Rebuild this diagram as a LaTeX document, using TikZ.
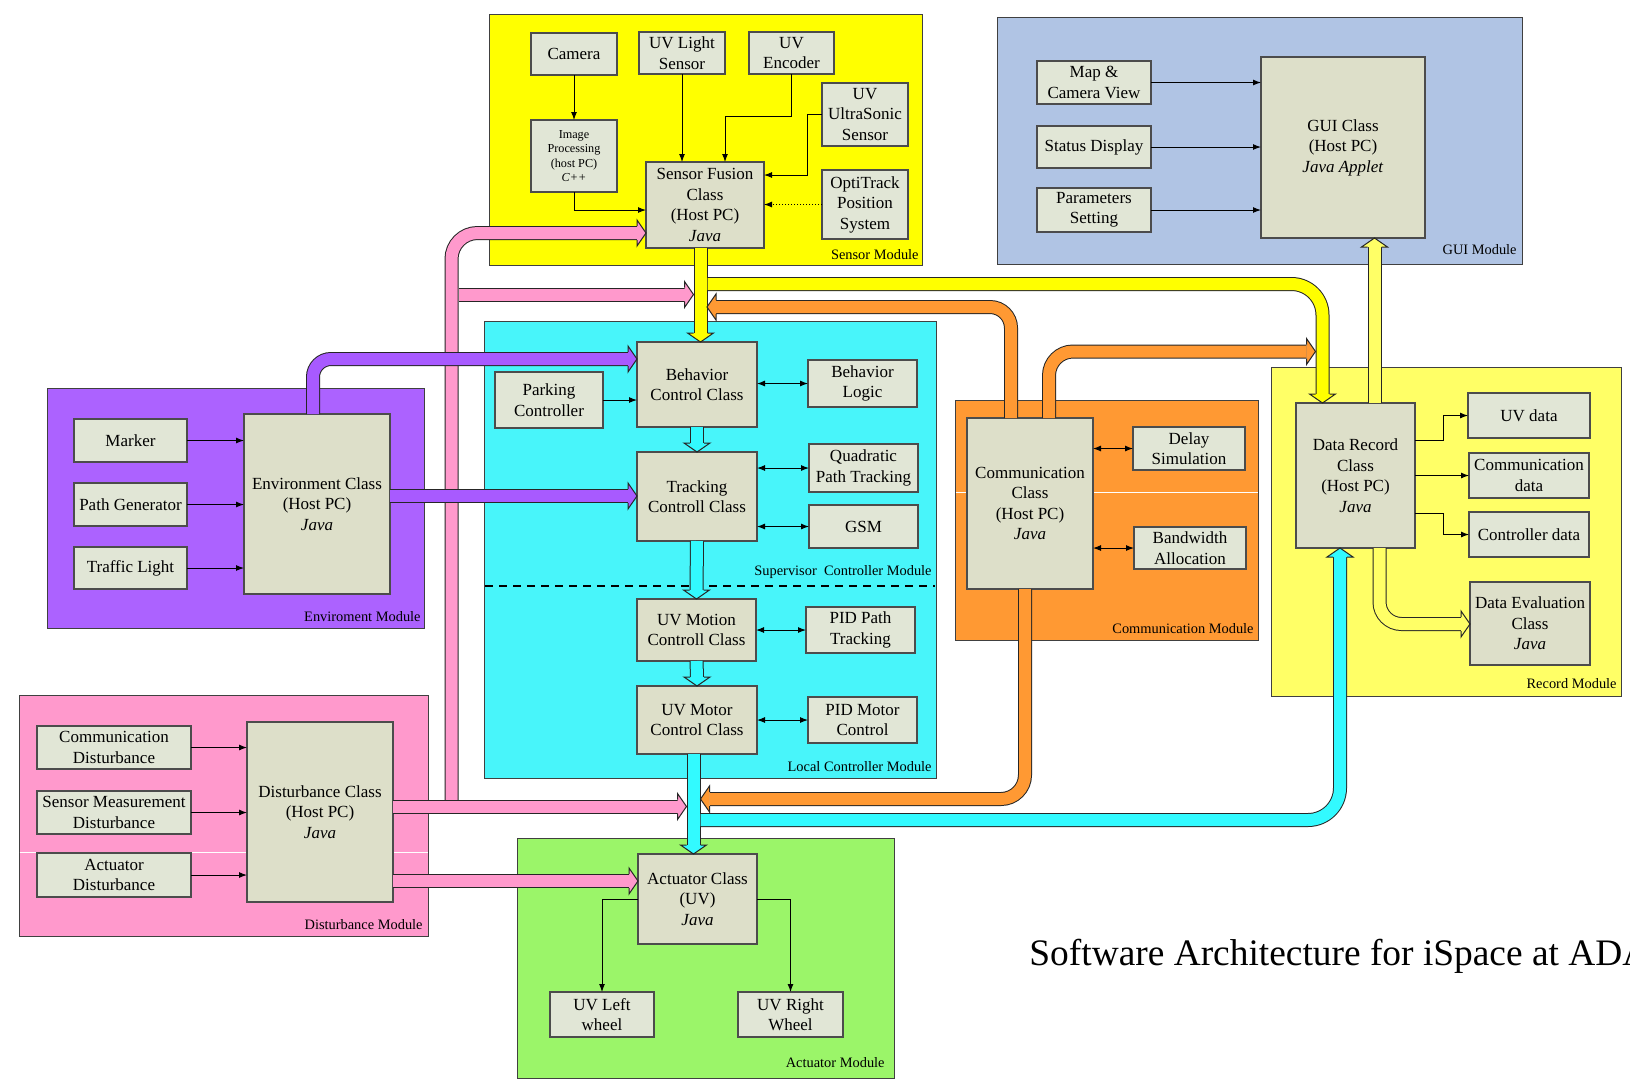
\documentclass[tikz,border=0pt]{standalone}
\usepackage{fontspec}
\setmainfont{Liberation Serif}
\usetikzlibrary{calc,arrows.meta}
\definecolor{sensY}{RGB}{255,255,0}
\definecolor{guiB}{RGB}{176,196,228}
\definecolor{envP}{RGB}{172,98,255}
\definecolor{purA}{RGB}{168,90,255}
\definecolor{cyanM}{RGB}{72,245,250}
\definecolor{cyanA}{RGB}{50,250,255}
\definecolor{commO}{RGB}{255,153,51}
\definecolor{recY}{RGB}{255,255,102}
\definecolor{distP}{RGB}{255,153,204}
\definecolor{actG}{RGB}{155,245,105}
\definecolor{clsF}{RGB}{221,223,201}
\definecolor{subF}{RGB}{225,230,214}
\newcommand\bx[7][]{\node[box,#1,minimum width={(#5-#3)*0.5pt},minimum height={(#6-#4)*0.5pt}] (#2) at ({(#3+#5)/2},{(#4+#6)/2}) {#7};}
\newcommand\md[6]{\node[modst,fill=#6,minimum width={(#4-#2)*0.5pt},minimum height={(#5-#3)*0.5pt}] (#1) at ({(#2+#4)/2},{(#3+#5)/2}) {};}
\newcommand\hR[2]{\filldraw[hd,fill=#1] ($(#2)+(-9,-7)$) -- ($(#2)+(-9,-13)$) -- (#2) -- ($(#2)+(-9,13)$) -- ($(#2)+(-9,7)$);}
\newcommand\hL[2]{\filldraw[hd,fill=#1] ($(#2)+(9,-7)$) -- ($(#2)+(9,-13)$) -- (#2) -- ($(#2)+(9,13)$) -- ($(#2)+(9,7)$);}
\newcommand\hD[2]{\filldraw[hd,fill=#1] ($(#2)+(-7,-9)$) -- ($(#2)+(-13,-9)$) -- (#2) -- ($(#2)+(13,-9)$) -- ($(#2)+(7,-9)$);}
\newcommand\hU[2]{\filldraw[hd,fill=#1] ($(#2)+(-7,9)$) -- ($(#2)+(-13,9)$) -- (#2) -- ($(#2)+(13,9)$) -- ($(#2)+(7,9)$);}
\begin{document}
\begin{tikzpicture}[x=0.5pt,y=-0.5pt,
  box/.style={draw=black!70,line width=0.6pt,fill=subF,inner sep=0pt,outer sep=0pt,align=center,font=\fontsize{8.5}{10.25}\selectfont},
  cls/.style={fill=clsF},
  small/.style={font=\fontsize{6.1}{7.3}\selectfont},
  modst/.style={draw=black!75,line width=0.5pt,inner sep=0pt,outer sep=0pt},
  arr/.style={line width=0.5pt,-{Latex[length=4pt,width=3pt]}},
  barr/.style={line width=0.5pt,{Latex[length=4pt,width=3pt]}-{Latex[length=4pt,width=3pt]}},
  mlab/.style={anchor=east,inner sep=0pt,font=\fontsize{7.2}{8.6}\selectfont},
  blk/.style={draw=black!85,line width=0.5pt,double=#1,double distance=6pt},
  hd/.style={draw=black!85,line width=0.5pt,line join=miter}]
\useasboundingbox (0,0) rectangle (1630,1089);
\fill[white] (0,0) rectangle (1630,1089);
% modules
\md{sensmod}{489}{14}{922}{265}{sensY}
\md{guimod}{997}{17}{1522}{264}{guiB}
\md{envmod}{47}{388}{424}{628}{envP}
\md{ctrlmod}{484}{321}{936}{778}{cyanM}
\md{commmod}{955}{400}{1258}{640}{commO}
\md{recmod}{1271}{367}{1621}{696}{recY}
\md{distmod}{19}{695}{428}{936}{distP}
\md{actmod}{517}{838}{894}{1078}{actG}
\draw[white,line width=0.4pt] (955.5,492) -- (1257.5,492);
\draw[white,line width=0.4pt] (19.5,852) -- (427.5,852);
\draw[dashed,line width=0.6pt,dash pattern=on 4pt off 3pt] (485,586) -- (935,586);
% boxes
\bx{camera}{531}{33}{617}{75}{Camera}
\bx{uvlight}{639}{32}{725}{74}{UV Light\\Sensor}
\bx{uvenc}{749}{32}{834}{74}{UV\\Encoder}
\bx{uvsonic}{822}{83}{908}{146}{UV\\UltraSonic\\Sensor}
\bx[small]{imgproc}{531}{120}{617}{192}{Image\\Processing\\(host PC)\\\textit{C++}}
\bx[cls]{fusion}{646}{162}{764}{248}{Sensor Fusion\\Class\\(Host PC)\\\textit{Java}}
\bx{opti}{822}{170}{908}{239}{OptiTrack\\Position\\System}
\bx{mapcam}{1037}{61}{1151}{104}{Map \&\\Camera View}
\bx{status}{1037}{126}{1151}{168}{Status Display}
\bx{params}{1037}{188}{1151}{232}{Parameters\\Setting}
\bx[cls]{guic}{1261}{57}{1425}{238}{GUI Class\\(Host PC)\\\textit{Java Applet}}
\bx{marker}{74}{419}{187}{462}{Marker}
\bx{pathgen}{74}{483}{187}{526}{Path Generator}
\bx{traffic}{74}{547}{187}{589}{Traffic Light}
\bx[cls]{envc}{244}{414}{390}{594}{Environment Class\\(Host PC)\\\textit{Java}}
\bx[cls]{behav}{637}{342}{757}{427}{Behavior\\Control Class}
\bx{parking}{495}{372}{603}{428}{Parking\\Controller}
\bx{blogic}{808}{360}{917}{407}{Behavior\\Logic}
\bx[cls]{track}{637}{452}{757}{541}{Tracking\\Controll Class}
\bx{quad}{809}{444}{918}{492}{Quadratic\\Path Tracking}
\bx{gsm}{809}{505}{918}{548}{GSM}
\bx[cls]{motion}{637}{599}{756}{661}{UV Motion\\Controll Class}
\bx{pidpath}{806}{607}{915}{653}{PID Path\\Tracking}
\bx[cls]{motor}{637}{686}{757}{754}{UV Motor\\Control Class}
\bx{pidmotor}{808}{697}{917}{743}{PID Motor\\Control}
\bx[cls]{commc}{967}{418}{1093}{589}{Communication\\Class\\(Host PC)\\\textit{Java}}
\bx{delay}{1133}{427}{1245}{470}{Delay\\Simulation}
\bx{bandw}{1134}{527}{1246}{569}{Bandwidth\\Allocation}
\bx[cls]{datarec}{1296}{403}{1415}{548}{Data Record\\Class\\(Host PC)\\\textit{Java}}
\bx{uvdata}{1468}{393}{1590}{438}{UV data}
\bx{commdata}{1469}{453}{1589}{498}{Communication\\data}
\bx{ctrldata}{1469}{512}{1589}{557}{Controller data}
\bx[cls]{dataeval}{1470}{582}{1590}{665}{Data Evaluation\\Class\\\textit{Java}}
\bx{cdist}{37}{726}{191}{769}{Communication\\Disturbance}
\bx{smdist}{37}{791}{191}{834}{Sensor Measurement\\Disturbance}
\bx{adist}{37}{853}{191}{897}{Actuator\\Disturbance}
\bx[cls]{distc}{247}{722}{393}{902}{Disturbance Class\\(Host PC)\\\textit{Java}}
\bx[cls]{actc}{638}{854}{757}{944}{Actuator Class\\(UV)\\\textit{Java}}
\bx{lwheel}{550}{992}{654}{1037}{UV Left\\wheel}
\bx{rwheel}{738}{992}{843}{1037}{UV Right\\Wheel}
% block arrows: tips
\coordinate (pkT1) at (fusion.west |- 0,233);
\coordinate (pkT2) at (693.5,294.5);
\coordinate (pkT3) at (686.5,806.5);
\coordinate (pkT4) at (actc.west |- 0,881);
\coordinate (puT1) at (behav.west |- 0,359);
\coordinate (puT2) at (track.west |- 0,496);
\coordinate (yT1) at (700.5,0 |- behav.north);
\coordinate (yT2) at (1322.5,0 |- datarec.north);
\coordinate (lyT1) at (1374.5,0 |- guic.south);
\coordinate (lyT2) at (dataeval.west |- 0,624);
\coordinate (oT1) at (707,307);
\coordinate (oT2) at (1315.5,351.5);
\coordinate (oT3) at (700.5,799);
\coordinate (cT4) at (693.5,0 |- actc.north);
\coordinate (cT5) at (1340,0 |- datarec.south);
% cyan
\draw[blk=cyanA] (behav.south) -- ($(track.north)+(0,-9)$); \hD{cyanA}{track.north}
\draw[blk=cyanA] (track.south) -- ($(motion.north)+(0,-9)$); \hD{cyanA}{motion.north}
\draw[blk=cyanA] (motion.south) -- ($(motor.north)+(0,-9)$); \hD{cyanA}{motor.north}
\draw[blk=cyanA] (693.5,0 |- motor.south) -- ($(cT4)+(0,-9)$); \hD{cyanA}{cT4}
\draw[blk=cyanA,rounded corners=16pt] (700.5,820) -- (1340,820) -- ($(cT5)+(0,9)$); \hU{cyanA}{cT5}
% pink
\draw[blk=distP,rounded corners=13pt] (451.5,806.5) -- (451.5,233) -- ($(pkT1)+(-9,0)$); \hR{distP}{pkT1}
\draw[blk=distP] (458.5,294.5) -- ($(pkT2)+(-9,0)$);
\draw[blk=distP] (distc.east |- 0,806.5) -- ($(pkT3)+(-9,0)$); \hR{distP}{pkT3}
\draw[blk=distP] (distc.east |- 0,881) -- ($(pkT4)+(-9,0)$); \hR{distP}{pkT4}
% purple
\draw[blk=purA,rounded corners=9pt] (313,0 |- envc.north) -- (313,359) -- ($(puT1)+(-9,0)$); \hR{purA}{puT1}
\draw[blk=purA] (envc.east |- 0,496) -- ($(puT2)+(-9,0)$); \hR{purA}{puT2}
% yellow
\draw[blk=sensY] (700.5,0 |- fusion.south) -- ($(yT1)+(0,-9)$); \hD{sensY}{yT1}
\hR{distP}{pkT2}
\draw[blk=sensY,rounded corners=15.5pt] (707.5,284) -- (1322.5,284) -- ($(yT2)+(0,-9)$);
% orange
\draw[blk=commO,rounded corners=10.5pt] (1011,0 |- commc.north) -- (1011,307) -- ($(oT1)+(9,0)$); \hL{commO}{oT1}
\draw[blk=commO,rounded corners=12pt] (1049,0 |- commc.north) -- (1049,351.5) -- ($(oT2)+(-9,0)$); \hR{commO}{oT2}
\draw[blk=commO,rounded corners=12pt] (1025,0 |- commc.south) -- (1025,799) -- ($(oT3)+(9,0)$); \hL{commO}{oT3}
\hD{sensY}{yT2}
% light yellow
\draw[blk=recY] (1374.5,0 |- datarec.north) -- ($(lyT1)+(0,9)$); \hU{recY}{lyT1}
\draw[blk=recY,rounded corners=11pt] (1379.5,0 |- datarec.south) -- (1379.5,624) -- ($(lyT2)+(-9,0)$); \hR{recY}{lyT2}
% thin arrows
\draw[arr] (camera) -- (imgproc);
\draw[arr] (uvlight.south) -- (uvlight.south |- fusion.north);
\draw[arr] (uvenc.south) |- (725,116) -- (725,0 |- fusion.north);
\draw[arr] (uvsonic.west) -| (807,175) -- (fusion.east |- 0,175);
\draw[arr,densely dotted] (opti.west) -- (opti.west -| fusion.east);
\draw[arr] (imgproc.south) |- (fusion.west |- 0,210);
\draw[arr] (mapcam.east) -- (mapcam.east -| guic.west);
\draw[arr] (status.east) -- (status.east -| guic.west);
\draw[arr] (params.east) -- (params.east -| guic.west);
\draw[arr] (marker.east) -- (marker.east -| envc.west);
\draw[arr] (pathgen.east) -- (pathgen.east -| envc.west);
\draw[arr] (traffic.east) -- (traffic.east -| envc.west);
\draw[arr] (parking.east) -- (parking.east -| behav.west);
\draw[barr] (behav.east |- blogic.west) -- (blogic.west);
\draw[barr] (track.east |- quad.west) -- (quad.west);
\draw[barr] (track.east |- gsm.west) -- (gsm.west);
\draw[barr] (motion.east |- pidpath.west) -- (pidpath.west);
\draw[barr] (motor.east |- pidmotor.west) -- (pidmotor.west);
\draw[barr] (commc.east |- delay.west) -- (delay.west);
\draw[barr] (commc.east |- bandw.west) -- (bandw.west);
\draw[arr] (datarec.east |- 0,440) -| (1443,415.5) -- (uvdata.west);
\draw[arr] (datarec.east |- commdata.west) -- (commdata.west);
\draw[arr] (datarec.east |- 0,513) -| (1443,534.5) -- (ctrldata.west);
\draw[arr] (cdist.east) -- (cdist.east -| distc.west);
\draw[arr] (smdist.east) -- (smdist.east -| distc.west);
\draw[arr] (adist.east) -- (adist.east -| distc.west);
\draw[arr] (actc.west |- 0,899) -| (lwheel.north);
\draw[arr] (actc.east |- 0,899) -| (rwheel.north);
% module labels
\node[mlab] (lsens) at (919,255) {Sensor Module};
\node[mlab] (lgui) at (1517,250) {GUI Module};
\node[mlab] (lenv) at (421,617) {Enviroment Module};
\node[mlab] (lsup) at (932,572) {Supervisor\ \ Controller Module};
\node[mlab] (lloc) at (932,767) {Local Controller Module};
\node[mlab] (lcomm) at (1254,629) {Communication Module};
\node[mlab] (lrec) at (1617,684) {Record Module};
\node[mlab] (ldist) at (423,925) {Disturbance Module};
\node[mlab] (lact) at (885,1063) {Actuator Module};
\node[anchor=base west,inner sep=0pt,font=\fontsize{18.7}{22}\selectfont] (title) at (1029,965) {Software Architecture for iSpace at ADA};
\end{tikzpicture}
\end{document}
